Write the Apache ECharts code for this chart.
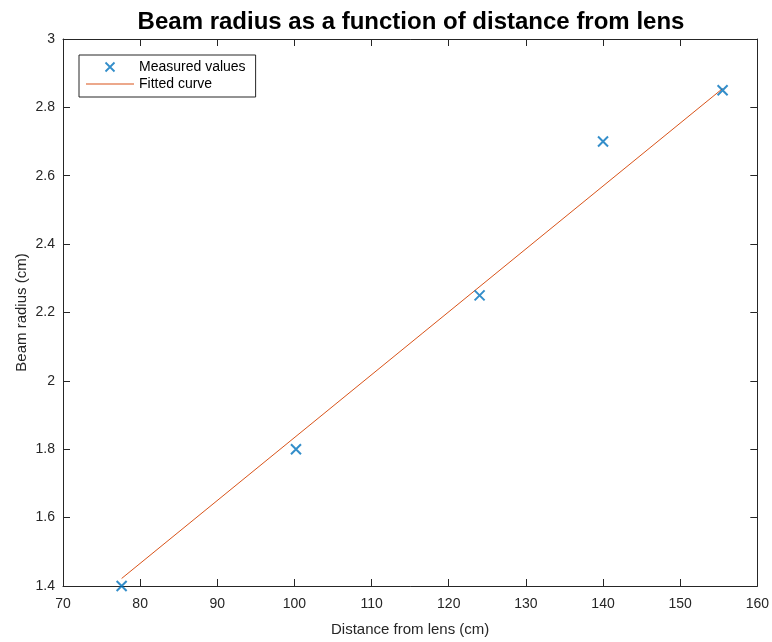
<!DOCTYPE html>
<html>
<head>
<meta charset="utf-8">
<script src="https://cdn.jsdelivr.net/npm/echarts@6/dist/echarts.min.js"></script>
<style>html,body{margin:0;padding:0;background:#fff;}#c{width:772px;height:642px;}</style>
</head>
<body>
<div id="c"></div>
<script>
const titleText = 'Beam radius as a function of distance from lens';
const xName = 'Distance from lens (cm)';
const yName = 'Beam radius (cm)';
const measuredX = [77.6, 100.2, 124.0, 140.0, 155.5];
const measuredY = [1.40, 1.80, 2.25, 2.70, 2.85];
const fitX = [77.6, 155.5];
const fitY = [1.422, 2.855];
const xTicks = [70, 80, 90, 100, 110, 120, 130, 140, 150, 160];
const yTicks = [1.4, 1.6, 1.8, 2, 2.2, 2.4, 2.6, 2.8, 3];

const axisColor = '#262626';
const crossPath = 'path://M0,0L10,10M10,0L0,10';
const linePath = 'path://M0,0L48,0L48,1L0,1Z';
const font = 'Liberation Sans, Arial, Helvetica, sans-serif';

const chart = echarts.init(document.getElementById('c'), null, {renderer: 'canvas'});

function axisBase(show) {
  return {
    axisLine: {show: true, onZero: false, lineStyle: {color: axisColor, width: 1}},
    axisTick: {show: true, inside: true, length: 7, lineStyle: {color: axisColor, width: 1}},
    axisLabel: {show: show, color: axisColor, fontSize: 14, fontFamily: font, margin: 11},
    splitLine: {show: false}
  };
}

chart.setOption({
  animation: false,
  backgroundColor: '#fff',
  title: {
    text: titleText,
    left: 406, top: 5, textAlign: 'center',
    textStyle: {fontSize: 24, fontWeight: 'bold', color: '#000', fontFamily: font}
  },
  grid: {left: 63, right: 13, top: 39, bottom: 54, containLabel: false},
  legend: {
    orient: 'vertical',
    left: 79, top: 55,
    padding: [5, 10, 6, 7],
    itemGap: 3,
    itemWidth: 48, itemHeight: 9,
    borderColor: axisColor, borderWidth: 1,
    backgroundColor: '#fff',
    textStyle: {color: '#000', fontSize: 14, fontFamily: font, width: 110},
    data: [
      {name: 'Measured values', icon: crossPath,
       itemStyle: {color: 'rgba(0,0,0,0)', borderColor: '#0072BD', borderWidth: 1.8}},
      {name: 'Fitted curve', icon: linePath,
       itemStyle: {color: '#D95319', borderWidth: 0}}
    ]
  },
  xAxis: [
    Object.assign(axisBase(true), {
      type: 'value', position: 'bottom', min: 70, max: 160, interval: 10,
      name: xName, nameLocation: 'middle', nameGap: 36, nameMoveOverlap: false,
      nameTextStyle: {color: axisColor, fontSize: 15, fontFamily: font}
    }),
    Object.assign(axisBase(false), {
      type: 'value', position: 'top', min: 70, max: 160, interval: 10
    })
  ],
  yAxis: [
    Object.assign(axisBase(true), {
      type: 'value', position: 'left', min: 1.4, max: 3, interval: 0.2,
      name: yName, nameLocation: 'middle', nameGap: 34, nameMoveOverlap: false,
      nameTextStyle: {color: axisColor, fontSize: 15, fontFamily: font},
      axisLabel: {show: true, color: axisColor, fontSize: 14, fontFamily: font, margin: 8,
        formatter: v => String(Math.round(v * 10) / 10)}
    }),
    Object.assign(axisBase(false), {
      type: 'value', position: 'right', min: 1.4, max: 3, interval: 0.2
    })
  ],
  series: [
    {
      name: 'Fitted curve', type: 'line',
      data: fitX.map((x, i) => [x, fitY[i]]),
      showSymbol: false, symbol: 'none',
      lineStyle: {color: '#D95319', width: 1},
      itemStyle: {color: '#D95319'},
      z: 2
    },
    {
      name: 'Measured values', type: 'scatter',
      data: measuredX.map((x, i) => [x, measuredY[i]]),
      symbol: crossPath, symbolSize: 10,
      itemStyle: {color: 'rgba(0,0,0,0)', borderColor: '#0072BD', borderWidth: 2},
      z: 3
    }
  ]
});
</script>
</body>
</html>
